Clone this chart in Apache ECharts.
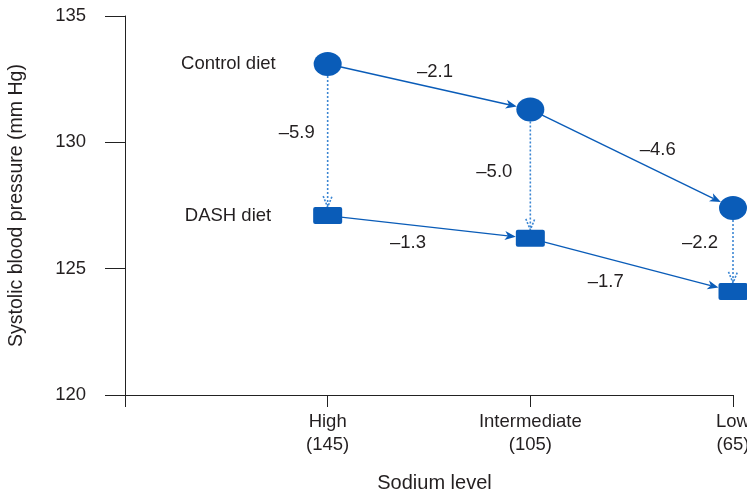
<!DOCTYPE html>
<html>
<head>
<meta charset="utf-8">
<script src="https://cdn.jsdelivr.net/npm/echarts@6/dist/echarts.min.js"></script>
<style>
  html, body { margin: 0; padding: 0; background: #fff; }
  #main { width: 747px; height: 495px; }
</style>
</head>
<body>
<div id="main"></div>
<script>
// data
var categories = ['High\n(145)', 'Intermediate\n(105)', 'Low\n(65)'];
var controlBP = [133.1, 131.3, 127.4];
var dashBP = [127.1, 126.2, 124.1];
var controlChange = ['\u20132.1', '\u20134.6'];
var dashChange = ['\u20131.3', '\u20131.7'];
var dietDiff = ['\u20135.9', '\u20135.0', '\u20132.2'];
var yTicks = [120, 125, 130, 135];

// label offsets from the middle of each arrow (px)
var controlOff = [[6, -15], [26, -9]];
var dashOff = [[-21, 16], [-26, 17]];
var diffOff = [[-31, -7], [-36, -2], [-33, -7]];

var blue = '#0a5cb8';
var dotBlue = '#3b86d3';
var txt = '#231f20';
var font = '"Liberation Sans", Arial, sans-serif';
var rectPath = 'path://M2,0H27Q29,0 29,2V15Q29,17 27,17H2Q0,17 0,15V2Q0,0 2,0Z';

var segs = [];
for (var i = 0; i < controlChange.length; i++) {
  segs.push({from: [i + 1, controlBP[i]], to: [i + 2, controlBP[i + 1]], text: controlChange[i], dotted: false, end: 'ellipse', off: controlOff[i]});
  segs.push({from: [i + 1, dashBP[i]], to: [i + 2, dashBP[i + 1]], text: dashChange[i], dotted: false, end: 'rect', off: dashOff[i]});
}
for (i = 0; i < dietDiff.length; i++) {
  segs.push({from: [i + 1, controlBP[i]], to: [i + 1, dashBP[i]], text: dietDiff[i], dotted: true, end: 'rect', off: diffOff[i]});
}

function renderArrow(params, api) {
  var s = segs[params.dataIndex];
  var p1 = api.coord(s.from), p2 = api.coord(s.to);
  var dx = p2[0] - p1[0], dy = p2[1] - p1[1];
  var len = Math.sqrt(dx * dx + dy * dy);
  var ux = dx / len, uy = dy / len;
  var t;
  if (s.end == 'ellipse') {
    t = 1 / Math.sqrt(Math.pow(ux / 14, 2) + Math.pow(uy / 12, 2));
  } else {
    t = Math.min(ux ? 14.5 / Math.abs(ux) : 1e9, uy ? 8.5 / Math.abs(uy) : 1e9);
  }
  var tip = [p2[0] - ux * t, p2[1] - uy * t];
  var L = 11, W = 4.5, notch = 3;
  var back = [tip[0] - ux * L, tip[1] - uy * L];
  var px = -uy, py = ux;
  var left = [back[0] + px * W, back[1] + py * W];
  var right = [back[0] - px * W, back[1] - py * W];
  var kids = [];
  if (s.dotted) {
    kids.push({type: 'line', shape: {x1: p1[0], y1: p1[1], x2: tip[0] - ux, y2: tip[1] - uy},
      style: {stroke: dotBlue, lineWidth: 1.6, lineDash: [2, 2]}});
    kids.push({type: 'polyline', shape: {points: [left, tip, right]},
      style: {stroke: dotBlue, lineWidth: 1.6, lineDash: [2, 1.5], fill: null}});
  } else {
    var nb = [tip[0] - ux * (L - notch), tip[1] - uy * (L - notch)];
    kids.push({type: 'line', shape: {x1: p1[0], y1: p1[1], x2: nb[0], y2: nb[1]},
      style: {stroke: blue, lineWidth: 1.4}});
    kids.push({type: 'polygon', shape: {points: [tip, left, nb, right]},
      style: {fill: blue}});
  }
  var mid = [(p1[0] + p2[0]) / 2, (p1[1] + p2[1]) / 2];
  kids.push({type: 'text', x: mid[0] + s.off[0], y: mid[1] + s.off[1],
    style: {text: s.text, fill: txt, font: '18.5px ' + font, align: 'center', verticalAlign: 'middle'}});
  return {type: 'group', children: kids};
}

var chart = echarts.init(document.getElementById('main'));
chart.setOption({
  animation: false,
  textStyle: {fontFamily: font},
  grid: {left: 125, right: 14, top: 16, bottom: 100, outerBoundsMode: 'none', containLabel: false},
  xAxis: {
    type: 'value',
    min: 0,
    max: 3,
    interval: 1,
    name: 'Sodium level',
    nameLocation: 'middle',
    nameGap: 78,
    nameTextStyle: {fontSize: 20, color: txt, padding: [0, 0, 0, 11]},
    axisLine: {lineStyle: {color: '#222', width: 1}},
    axisTick: {show: true, length: 12, lineStyle: {color: '#222'}},
    splitLine: {show: false},
    axisLabel: {
      margin: 15,
      fontSize: 18.5,
      lineHeight: 23,
      color: txt,
      hideOverlap: false,
      formatter: function (v) { return categories[v - 1] || ''; }
    }
  },
  yAxis: {
    type: 'value',
    min: yTicks[0],
    max: yTicks[yTicks.length - 1],
    interval: yTicks[1] - yTicks[0],
    name: 'Systolic blood pressure (mm Hg)',
    nameLocation: 'middle',
    nameGap: 98,
    nameTextStyle: {fontSize: 19.5, color: txt},
    axisLine: {show: true, lineStyle: {color: '#222', width: 1}},
    axisTick: {show: true, length: 20, lineStyle: {color: '#222'}},
    splitLine: {show: false},
    axisLabel: {margin: 39, fontSize: 18.5, color: txt}
  },
  series: [
    {
      type: 'custom',
      renderItem: renderArrow,
      clip: false,
      encode: {x: [0, 2], y: [1, 3]},
      data: segs.map(function (s) { return s.from.concat(s.to); }),
      z: 2
    },
    {
      type: 'scatter',
      name: 'Control diet',
      clip: false,
      symbol: 'circle',
      symbolSize: [28, 24],
      itemStyle: {color: blue, opacity: 1},
      data: controlBP.map(function (v, i) { return [i + 1, v]; }),
      label: {
        show: true, position: 'left', distance: 38, fontSize: 18.5, color: txt,
        formatter: function (p) { return p.dataIndex === 0 ? 'Control diet' : ''; }
      },
      z: 5
    },
    {
      type: 'scatter',
      name: 'DASH diet',
      clip: false,
      symbol: rectPath,
      symbolSize: [29, 17],
      itemStyle: {color: blue, opacity: 1},
      data: dashBP.map(function (v, i) { return [i + 1, v]; }),
      label: {
        show: true, position: 'left', distance: 42, fontSize: 18.5, color: txt,
        formatter: function (p) { return p.dataIndex === 0 ? 'DASH diet' : ''; }
      },
      z: 5
    }
  ]
});
</script>
</body>
</html>
